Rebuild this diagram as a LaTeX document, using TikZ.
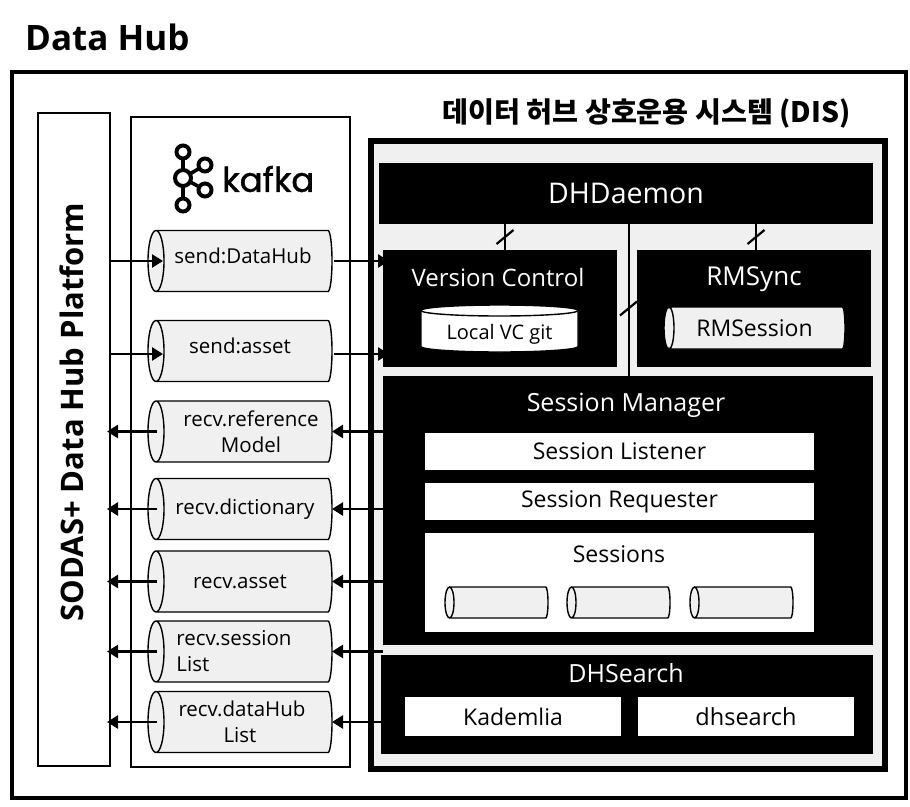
\documentclass[tikz,border=0pt]{standalone}
\usepackage{fontspec}
\setmainfont{Open Sans}
\newfontfamily\korfont{Noto Sans CJK KR}
\newfontfamily\kafkafont[FakeBold=1.2]{Poppins}
\usetikzlibrary{positioning}
\usetikzlibrary{arrows.meta}
\definecolor{panelgray}{HTML}{F0F0F0}
\def\bb{path picture bounding box}
\tikzset{
    plainbox/.style={draw=black, rectangle, inner sep=0pt, outer sep=0pt},
    blackbox/.style={fill=black, text=white, rectangle, inner sep=0pt, outer sep=0pt},
    whitebox/.style={fill=white, text=black, rectangle, inner sep=0pt, outer sep=0pt},
    % lying cylinder: end radius and half height
    drum/.style 2 args={rectangle, inner sep=0pt, outer sep=0pt, align=center, path picture={
        \draw[line width=1.4pt, fill=panelgray]
            ([xshift=#1+1.5pt, yshift=-1.5pt]\bb.north west) -- ([xshift=-0.5*#1-1.5pt, yshift=-1.5pt]\bb.north east)
            arc[start angle=90, end angle=-90, x radius=0.5*#1, y radius=#2]
            -- ([xshift=#1+1.5pt, yshift=1.5pt]\bb.south west)
            arc[start angle=270, end angle=90, x radius=#1, y radius=#2]
            arc[start angle=90, end angle=-90, x radius=#1, y radius=#2];
    }},
    topic/.style={drum={8pt}{30.5pt}, minimum width=187pt, minimum height=64pt, font=\fontsize{20.5}{26}\selectfont},
    slot/.style={drum={4.5pt}{15.5pt}, minimum width=106pt, minimum height=34pt},
    % standing cylinder
    gitdrum/.style={rectangle, inner sep=0pt, outer sep=0pt, minimum width=160pt, minimum height=50pt, path picture={
        \draw[line width=1.4pt, fill=white]
            ([xshift=1.5pt, yshift=-7pt]\bb.north west)
            arc[start angle=180, end angle=0, x radius=78.5pt, y radius=5.5pt]
            -- ([xshift=-1.5pt, yshift=7pt]\bb.south east)
            arc[start angle=0, end angle=-180, x radius=78.5pt, y radius=5.5pt]
            -- cycle;
        \draw[line width=1.4pt] ([xshift=1.5pt, yshift=-7pt]\bb.north west)
            arc[start angle=180, end angle=360, x radius=78.5pt, y radius=5.5pt];
    }},
    flow/.style={line width=2.5pt, -{Triangle[length=11pt,width=13pt]}},
    hash/.style={line width=2.2pt},
    headtext/.style={text=white, inner sep=0pt},
}
\begin{document}
\begin{tikzpicture}[x=1pt, y=-1pt]
        \useasboundingbox (0,0) rectangle (910,806);
        \node[inner sep=0pt, anchor=west, font=\fontsize{35}{40}\selectfont\bfseries] (title) at (25,37) {Data Hub};
        \node[plainbox, line width=4pt, minimum width=894pt, minimum height=726pt] (hub) at (459,435) {};
        \node[plainbox, line width=2pt, minimum width=72pt, minimum height=653pt] (sodas) at (74,439.5) {};
        \node[inner sep=0pt, rotate=90, font=\fontsize{31}{36}\selectfont\bfseries] (sodastext) at (72,412) {SODAS+ Data Hub Platform};
        \node[plainbox, line width=2.5pt, minimum width=219pt, minimum height=650pt] (kafka) at (240.5,442) {};
        \node[inner sep=0pt, font=\fontsize{28.2}{32}\selectfont\korfont\bfseries] (distitle) at (646.5,113) {데이터 허브 상호운용 시스템 (DIS)};
        \node[plainbox, line width=6pt, fill=panelgray, minimum width=514pt, minimum height=628pt] (dis) at (627.5,454.5) {};

        % kafka logo
        \foreach \name/\px/\py in {ka/183/152, kb/205/165, kc/183/178, kd/205/190, ke/183/205} {
            \coordinate (\name) at (\px,\py);
        }
        \draw[line width=3.6pt] (ka) -- (ke) (kc) -- (kb) (kc) -- (kd);
        \foreach \name/\rad in {ka/6.5, kb/6.5, kc/8, kd/6.5, ke/6.5} {
            \draw[line width=4pt, fill=white] (\name) circle (\rad);
        }
        \node[inner sep=0pt, anchor=west, font=\fontsize{34}{40}\selectfont\kafkafont] (kafkatext) at (222,179) {kafka};

        % topics
        \node[topic, text height=15pt, text depth=11pt] (sendhub) at (240,261) {\hspace*{6pt}send:DataHub};
        \node[topic, text height=15pt, text depth=11pt] (sendasset) at (240,351) {send:asset};
        \node[topic] (recvref) at (240,431.5) {\hspace*{22pt}recv.reference\\\hspace*{22pt}Model};
        \node[topic] (recvdict) at (240,509) {\hspace*{10pt}recv.dictionary};
        \node[topic] (recvasset) at (240,581.5) {recv.asset};
        \node[topic, align=left] (recvsession) at (240,651.5) {recv.session\hspace*{12pt}\\List};
        \node[topic] (recvhub) at (240,722) {\hspace*{4pt}recv.dataHub\\List};

        % DIS blocks
        \node[blackbox, minimum width=494pt, minimum height=61pt, font=\fontsize{28.5}{34}\selectfont] (dhdaemon) at (626,193.5) {DHDaemon};
        \node[blackbox, minimum width=234pt, minimum height=117pt] (vcontrol) at (500,308.5) {};
        \node[headtext, font=\fontsize{24}{30}\selectfont] (vctext) at (498,277) {Version Control};
        \node[gitdrum, text height=26pt, text depth=4pt, font=\fontsize{20}{24}\selectfont] (localgit) at (499.5,328.5) {Local VC git};
        \node[blackbox, minimum width=234pt, minimum height=117pt] (rmsync) at (754,308.5) {};
        \node[headtext, font=\fontsize{26}{30}\selectfont] (rmtext) at (754,279) {RMSync};
        \node[drum={5pt}{21pt}, minimum width=184pt, minimum height=45pt, font=\fontsize{23}{28}\selectfont] (rmsession) at (754.5,328) {RMSession};
        \node[blackbox, minimum width=490pt, minimum height=269pt] (sessman) at (628,510.5) {};
        \node[headtext, font=\fontsize{25}{30}\selectfont] (smtext) at (626,405) {Session Manager};
        \node[whitebox, minimum width=389pt, minimum height=37pt, font=\fontsize{23}{27}\selectfont] (listener) at (619.5,451.5) {Session Listener};
        \node[whitebox, minimum width=389pt, minimum height=37pt, font=\fontsize{23}{27}\selectfont] (requester) at (619.5,501.5) {Session Requester};
        \node[whitebox, minimum width=389pt, minimum height=99pt] (sessions) at (619.5,582.5) {};
        \node[inner sep=0pt, font=\fontsize{23}{27}\selectfont] (sesstext) at (619,554) {Sessions};
        \node[slot] (slota) at (496.5,602.5) {};
        \node[slot] (slotb) at (618.5,602.5) {};
        \node[slot] (slotc) at (741.5,602.5) {};
        \node[blackbox, minimum width=492pt, minimum height=99pt] (dhsearch) at (627,704.5) {};
        \node[headtext, font=\fontsize{25}{30}\selectfont] (dstext) at (626,673) {DHSearch};
        \node[whitebox, minimum width=216pt, minimum height=39pt, font=\fontsize{23}{28}\selectfont] (kademlia) at (513,716.5) {Kademlia};
        \node[whitebox, minimum width=216pt, minimum height=39pt, font=\fontsize{23.5}{28}\selectfont] (searchbox) at (746,716.5) {dhsearch};

        % inner links
        \coordinate (splittop) at (629,224);
        \coordinate (splitbot) at (629,376);
        \coordinate (tickvc) at (505,237);
        \coordinate (tickrm) at (756,237);
        \coordinate (tickmid) at (628.5,308.5);
        \draw[line width=2pt, draw=black] (splittop) -- (splitbot);
        \draw[hash] (dhdaemon.south -| tickvc) -- (vcontrol.north -| tickvc);
        \draw[hash] (dhdaemon.south -| tickrm) -- (rmsync.north -| tickrm);
        \foreach \tick in {tickvc, tickrm, tickmid} {
            \draw[hash] ([shift={(-8.5pt,-7pt)}]\tick) -- ([shift={(8.5pt,7pt)}]\tick);
        }

        % flows in
        \draw[flow] (sodas.east |- sendhub) -- ([xshift=-77pt]sendhub.center);
        \draw[flow] ([yshift=-3pt]sodas.east |- sendasset) -- ([xshift=-77pt, yshift=-3pt]sendasset.center);
        \draw[flow] ([xshift=94pt]sendhub.center) -- ([xshift=6pt]vcontrol.west |- sendhub);
        \draw[flow] ([xshift=94pt, yshift=-3pt]sendasset.center) -- ([xshift=6pt, yshift=-3pt]vcontrol.west |- sendasset);

        % flows out
        \foreach \topic/\src in {recvref/sessman, recvdict/sessman, recvasset/sessman, recvsession/sessman, recvhub/dhsearch} {
            \draw[flow] (\src.west |- \topic) -- ([xshift=92pt]\topic.center);
            \draw[flow] ([xshift=-83pt]\topic.center) -- ([xshift=-3pt]sodas.east |- \topic);
        }
\end{tikzpicture}
\end{document}
